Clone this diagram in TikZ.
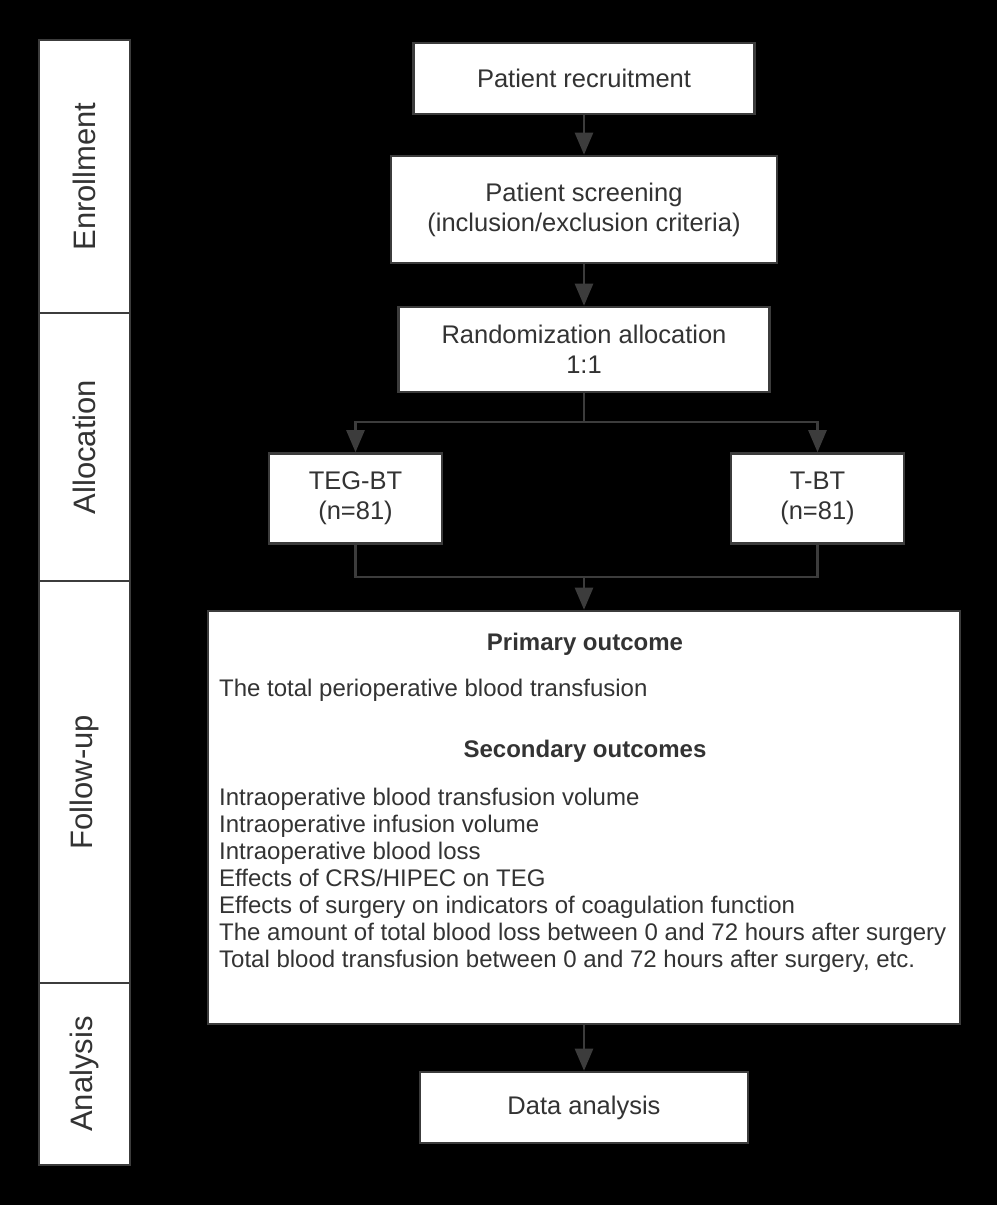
\documentclass[tikz,border=0pt]{standalone}
\usepackage{fontspec}
\setmainfont{Liberation Sans}
\usetikzlibrary{arrows.meta}
\definecolor{edgec}{RGB}{60,60,60}
\definecolor{txtc}{RGB}{51,51,51}
\begin{document}
\begin{tikzpicture}[x=1pt,y=-1pt,
  box/.style={draw=edgec, line width=2.6pt, fill=white, text=txtc, inner sep=0pt, align=center, font=\fontsize{25.5}{30}\selectfont},
  lane/.style={draw=edgec, line width=2.6pt, fill=white, inner sep=0pt, minimum width=91pt},
  lanelabel/.style={rotate=90, text=txtc, inner sep=0pt, font=\fontsize{31}{36}\selectfont},
  conn/.style={draw=edgec, line width=2.6pt},
  arr/.style={conn, -{Triangle[width=18pt,length=22pt]}},
  item/.style={anchor=west, text=txtc, inner sep=0pt, font=\fontsize{24}{28}\selectfont, text height=0.75em, text depth=0.25em},
  head/.style={text=txtc, inner sep=0pt, font=\bfseries\fontsize{24}{30}\selectfont, text height=0.75em, text depth=0.25em}
]
\fill[black] (0,0) rectangle (997,1205);
\useasboundingbox (0,0) rectangle (997,1205);

% phase lanes
\node[lane, minimum height=273pt] (enr) at (84.5,176.5) {};
\node[lane, minimum height=268pt] (alc) at (84.5,447) {};
\node[lane, minimum height=402pt] (fol) at (84.5,782) {};
\node[lane, minimum height=182pt] (ana) at (84.5,1074) {};
\node[lanelabel] (enrl) at (enr) {Enrollment};
\node[lanelabel] (alcl) at (alc) {Allocation};
\node[lanelabel] (foll) at (fol) {Follow-up};
\node[lanelabel] (anal) at (ana) {Analysis};

% flow boxes
\node[box, minimum width=341pt, minimum height=71pt] (rec) at (584,78.5) {Patient recruitment};
\node[box, minimum width=386pt, minimum height=107pt] (scr) at (584,209.5) {Patient screening\\(inclusion/exclusion criteria)};
\node[box, minimum width=371pt, minimum height=85pt] (rnd) at (584,349.5) {Randomization allocation\\1:1};
\node[box, minimum width=173pt, minimum height=90pt] (teg) at (355.5,498.5) {TEG-BT\\(n=81)};
\node[box, minimum width=173pt, minimum height=90pt] (tbt) at (817.5,498.5) {T-BT\\(n=81)};
\node[box, minimum width=752pt, minimum height=413pt] (out) at (584,817.5) {};
\node[box, minimum width=328pt, minimum height=71pt] (dat) at (584,1107.5) {Data analysis};

% outcome texts
\node[head] (h1) at (585,648) {Primary outcome};
\node[item] (p1) at (219,694) {The total perioperative blood transfusion};
\node[head] (h2) at (585,755) {Secondary outcomes};
\node[item] (s1) at (219,803) {Intraoperative blood transfusion volume};
\node[item] (s2) at (219,830) {Intraoperative infusion volume};
\node[item] (s3) at (219,857) {Intraoperative blood loss};
\node[item] (s4) at (219,884) {Effects of CRS/HIPEC on TEG};
\node[item] (s5) at (219,911) {Effects of surgery on indicators of coagulation function};
\node[item] (s6) at (219,938) {The amount of total blood loss between 0 and 72 hours after surgery};
\node[item] (s7) at (219,965) {Total blood transfusion between 0 and 72 hours after surgery, etc.};

% connectors
\coordinate (sp) at (584,422);
\coordinate (mg) at (584,577);
\draw[arr] (rec) -- (scr);
\draw[arr] (scr) -- (rnd);
\draw[conn] (rnd.south) -- (sp);
\draw[arr] (sp) -| (teg.north);
\draw[arr] (sp) -| (tbt.north);
\draw[conn] (teg.south) |- (mg);
\draw[conn] (tbt.south) |- (mg);
\draw[arr] (mg) -- (out.north);
\draw[arr] (out) -- (dat);
\end{tikzpicture}
\end{document}
